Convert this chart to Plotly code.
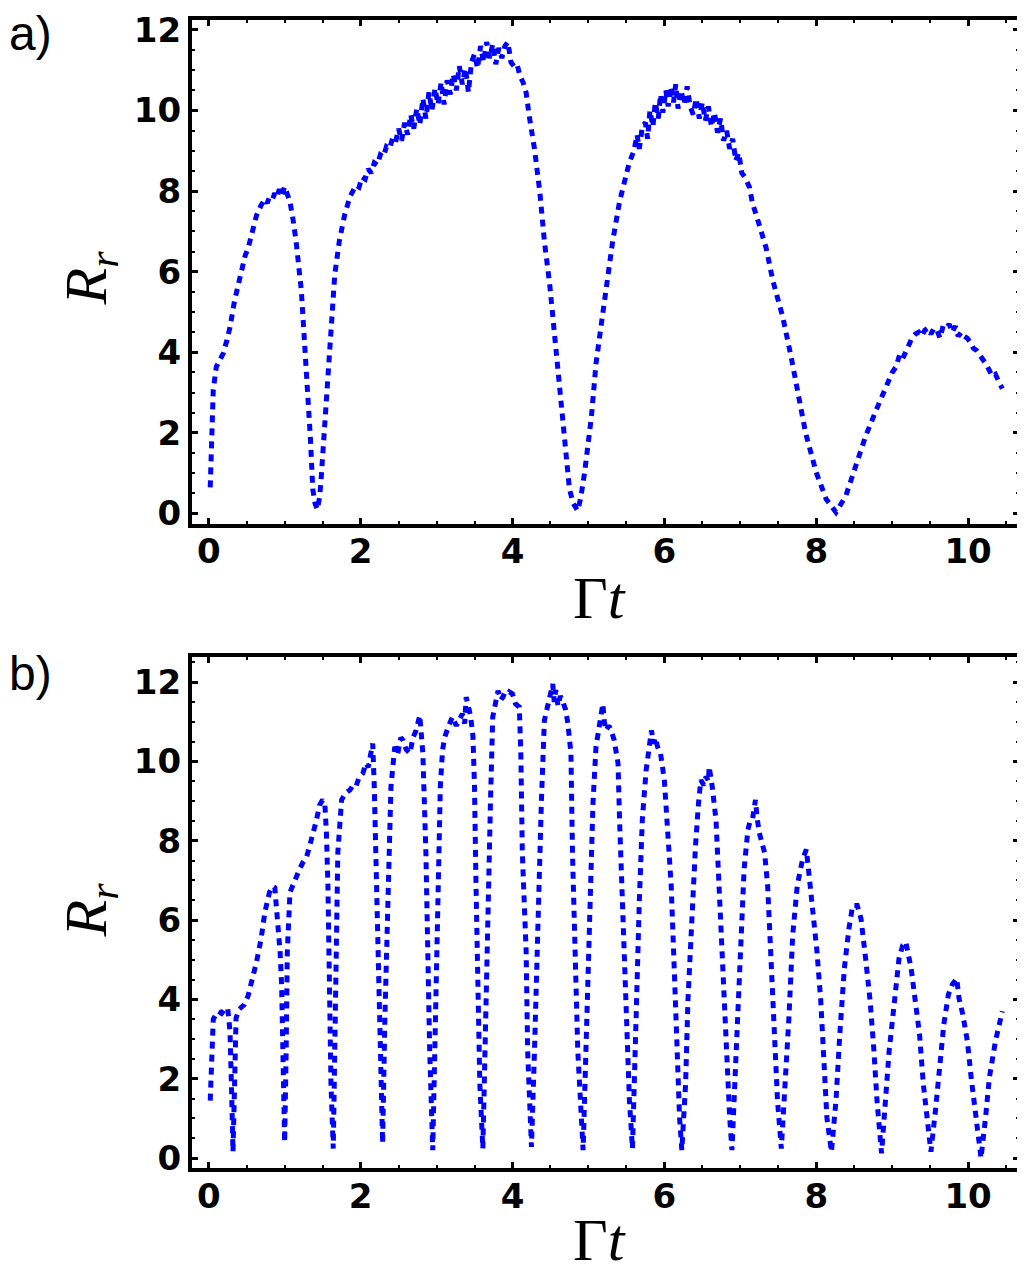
import plotly.graph_objects as go

# panel a) : R_r versus Gamma t
t_a = [0.02, 0.04, 0.06, 0.10, 0.15, 0.19, 0.24, 0.28, 0.34, 0.39, 0.43, 0.48, 0.52, 0.58, 0.63,
       0.69, 0.74, 0.77, 0.80, 0.84, 0.87, 0.90, 0.93, 0.96, 1.00, 1.03, 1.07, 1.11, 1.15, 1.22,
       1.26, 1.31, 1.34, 1.37, 1.40, 1.43, 1.46, 1.48, 1.53, 1.57, 1.61, 1.66, 1.72, 1.79, 1.86,
       1.90, 1.94, 1.98, 2.02, 2.06, 2.10, 2.14, 2.18, 2.22, 2.26, 2.30, 2.34, 2.38, 2.42, 2.46,
       2.50, 2.54, 2.58, 2.62, 2.66, 2.70, 2.74, 2.78, 2.82, 2.86, 2.90, 2.94, 2.98, 3.02, 3.06,
       3.10, 3.14, 3.18, 3.22, 3.26, 3.30, 3.34, 3.38, 3.42, 3.46, 3.50, 3.54, 3.58, 3.62, 3.66,
       3.70, 3.74, 3.78, 3.82, 3.86, 3.90, 3.94, 3.98, 4.02, 4.06, 4.10, 4.14, 4.18, 4.22, 4.29,
       4.36, 4.42, 4.49, 4.55, 4.62, 4.68, 4.75, 4.80, 4.86, 4.90, 4.95, 5.04, 5.10, 5.17, 5.23,
       5.32, 5.41, 5.48, 5.54, 5.60, 5.64, 5.67, 5.71, 5.75, 5.78, 5.81, 5.85, 5.88, 5.92, 5.95,
       5.98, 6.02, 6.05, 6.09, 6.12, 6.15, 6.18, 6.22, 6.26, 6.30, 6.34, 6.38, 6.42, 6.46, 6.50,
       6.54, 6.58, 6.62, 6.66, 6.70, 6.74, 6.78, 6.82, 6.86, 6.90, 6.94, 6.98, 7.02, 7.06, 7.12,
       7.16, 7.21, 7.26, 7.34, 7.43, 7.50, 7.56, 7.67, 7.75, 7.86, 8.00, 8.13, 8.26, 8.39, 8.52,
       8.65, 8.79, 8.92, 9.00, 9.05, 9.10, 9.14, 9.18, 9.22, 9.26, 9.31, 9.35, 9.39, 9.43, 9.47,
       9.51, 9.55, 9.59, 9.63, 9.67, 9.71, 9.75, 9.79, 9.83, 9.87, 9.91, 9.95, 9.99, 10.03, 10.07,
       10.11, 10.15, 10.19, 10.24, 10.28, 10.32, 10.36, 10.40, 10.45]
r_a = [0.65, 2.0, 3.07, 3.64, 3.8, 3.97, 4.3, 4.62, 5.28, 5.7, 6.02, 6.4, 6.59, 7.08, 7.4,
       7.65, 7.8, 7.7, 7.85, 7.8, 7.95, 7.85, 8.05, 7.9, 8.11, 7.95, 7.74, 7.3, 6.76, 5.53,
       4.30, 3.07, 1.84, 0.61, 0.25, 0.1, 0.4, 0.85, 2.25, 3.47, 4.70, 5.93, 6.76, 7.41, 7.86,
       8.0, 8.15, 8.1, 8.35, 8.3, 8.55, 8.45, 8.7, 8.65, 8.9, 8.85, 9.1, 9.05, 9.3, 9.2,
       9.55, 9.25, 9.7, 9.4, 9.9, 9.55, 10.05, 9.65, 10.3, 9.8, 10.45, 10.0, 10.55, 10.15, 10.7,
       10.15, 10.75, 10.4, 10.9, 10.5, 11.1, 10.65, 11.05, 10.45, 11.2, 11.4, 11.05, 11.6, 11.2, 11.7,
       11.3, 11.65, 11.15, 11.55, 11.3, 11.6, 11.7, 11.2, 11.1, 11.15, 10.85, 10.7, 10.44, 9.87, 9.05,
       7.98, 6.76, 5.69, 4.46, 3.07, 1.84, 0.61, 0.25, 0.07, 0.4, 1.02, 2.41, 3.72, 4.70, 5.6,
       6.76, 7.74, 8.3, 8.72, 9.0, 9.4, 9.05, 9.6, 9.7, 9.3, 10.0, 9.6, 10.2, 9.8, 10.4,
       9.95, 10.5, 10.1, 10.6, 10.2, 10.65, 10.05, 10.5, 10.15, 10.6, 10.1, 9.9, 10.3, 9.8, 10.2,
       9.75, 10.1, 9.6, 9.95, 9.45, 9.8, 9.25, 9.5, 9.05, 9.3, 8.75, 8.95, 8.45, 8.35, 8.1,
       7.7, 7.41, 7.05, 6.59, 5.77, 5.3, 4.87, 3.88, 3.07, 2.00, 1.02, 0.36, 0.03, 0.44, 1.18,
       1.92, 2.57, 3.15, 3.5, 3.64, 3.95, 3.85, 4.0, 4.2, 4.35, 4.46, 4.5, 4.4, 4.55, 4.6,
       4.45, 4.6, 4.55, 4.35, 4.65, 4.6, 4.7, 4.5, 4.65, 4.4, 4.5, 4.4, 4.35, 4.25, 4.1,
       4.05, 3.95, 3.85, 3.7, 3.55, 3.4, 3.45, 3.3, 3.1]

# panel b)
t_b = [0.02, 0.04, 0.06, 0.09, 0.13, 0.17, 0.21, 0.25, 0.28, 0.30, 0.32, 0.34, 0.36, 0.40, 0.44,
       0.47, 0.52, 0.56, 0.63, 0.69, 0.74, 0.80, 0.84, 0.87, 0.91, 0.94, 0.96, 0.98, 1.00, 1.02,
       1.035, 1.07, 1.11, 1.15, 1.20, 1.24, 1.29, 1.33, 1.38, 1.42, 1.46, 1.50, 1.53, 1.55, 1.57,
       1.59, 1.61, 1.64, 1.66, 1.68, 1.70, 1.75, 1.80, 1.86, 1.90, 1.94, 1.98, 2.03, 2.07, 2.10,
       2.12, 2.16, 2.18, 2.21, 2.23, 2.27, 2.29, 2.32, 2.36, 2.40, 2.45, 2.49, 2.53, 2.56, 2.60,
       2.65, 2.69, 2.73, 2.78, 2.82, 2.86, 2.88, 2.91, 2.95, 2.98, 3.02, 3.05, 3.08, 3.11, 3.16,
       3.21, 3.26, 3.30, 3.34, 3.37, 3.39, 3.43, 3.45, 3.48, 3.50, 3.52, 3.54, 3.57, 3.61, 3.64,
       3.68, 3.71, 3.74, 3.78, 3.81, 3.85, 3.88, 3.92, 3.96, 4.00, 4.04, 4.09, 4.11, 4.13, 4.18,
       4.20, 4.25, 4.29, 4.33, 4.38, 4.42, 4.46, 4.49, 4.53, 4.55, 4.57, 4.60, 4.63, 4.66, 4.70,
       4.73, 4.77, 4.79, 4.83, 4.86, 4.93, 4.97, 5.01, 5.06, 5.10, 5.15, 5.19, 5.21, 5.23, 5.27,
       5.30, 5.34, 5.39, 5.41, 5.44, 5.47, 5.50, 5.54, 5.58, 5.61, 5.64, 5.67, 5.71, 5.76, 5.80,
       5.83, 5.86, 5.88, 5.91, 5.95, 6.00, 6.04, 6.09, 6.13, 6.16, 6.20, 6.23, 6.28, 6.31, 6.36,
       6.41, 6.45, 6.48, 6.52, 6.55, 6.58, 6.59, 6.63, 6.68, 6.72, 6.77, 6.81, 6.86, 6.89, 6.93,
       6.96, 7.01, 7.05, 7.10, 7.13, 7.16, 7.20, 7.22, 7.25, 7.32, 7.36, 7.40, 7.45, 7.49, 7.54,
       7.58, 7.64, 7.69, 7.75, 7.82, 7.87, 7.92, 7.97, 8.01, 8.06, 8.11, 8.14, 8.20, 8.26, 8.31,
       8.37, 8.43, 8.48, 8.54, 8.59, 8.65, 8.71, 8.76, 8.80, 8.86, 8.91, 8.96, 9.03, 9.09, 9.14,
       9.18, 9.25, 9.30, 9.36, 9.41, 9.46, 9.51, 9.57, 9.62, 9.68, 9.74, 9.79, 9.85, 9.88, 9.93,
       9.99, 10.04, 10.10, 10.17, 10.23, 10.28, 10.36, 10.45]
r_b = [1.45, 2.8, 3.5, 3.6, 3.7, 3.65, 3.75, 3.78, 3.2, 1.8, 0.16, 1.8, 3.53, 3.75, 3.8,
       3.87, 4.1, 4.37, 4.95, 5.53, 6.2, 6.7, 6.85, 6.82, 6.03, 5.2, 4.37, 2.7, 0.4, 2.7,
       5.2, 6.7, 6.9, 7.12, 7.3, 7.45, 7.6, 7.87, 8.2, 8.53, 8.9, 9.03, 8.9, 8.2, 6.87,
       4.37, 1.87, 0.24, 2.7, 5.2, 7.7, 9.03, 9.2, 9.28, 9.4, 9.37, 9.6, 9.7, 9.95, 9.85,
       10.03, 10.45, 9.37, 6.87, 4.37, 1.87, 0.37, 3.53, 6.87, 9.37, 10.37, 10.2, 10.6, 10.53, 10.3,
       10.2, 10.6, 10.78, 11.16, 10.2, 7.7, 5.2, 2.7, 0.2, 2.7, 6.03, 9.37, 10.3, 10.62, 10.9,
       11.12, 10.9, 11.05, 11.2, 10.95, 11.62, 11.3, 11.12, 10.62, 9.37, 6.87, 4.37, 1.87, 0.24, 3.12,
       6.03, 8.95, 11.12, 11.5, 11.78, 11.55, 11.65, 11.62, 11.75, 11.7, 11.45, 11.37, 10.2, 7.7, 5.2,
       2.7, 0.28, 2.7, 6.03, 8.95, 11.03, 11.4, 11.62, 11.95, 11.5, 11.8, 11.4, 11.65, 11.53, 11.3,
       10.95, 10.2, 7.7, 5.2, 2.7, 0.2, 2.7, 6.03, 8.95, 10.37, 11.0, 11.45, 11.0, 10.78, 10.9,
       10.78, 10.53, 9.95, 8.53, 6.87, 5.2, 3.12, 1.45, 0.24, 1.87, 4.37, 6.45, 8.53, 9.78, 10.5,
       10.78, 10.45, 10.6, 10.37, 10.2, 9.53, 8.53, 6.87, 4.78, 2.7, 1.03, 0.2, 1.87, 3.95, 6.03,
       7.87, 8.95, 9.53, 9.4, 9.62, 9.5, 9.87, 9.37, 8.53, 6.87, 4.78, 2.7, 1.03, 0.2, 1.87,
       3.53, 5.62, 7.28, 8.28, 8.5, 8.53, 9.03, 8.6, 8.2, 7.7, 6.87, 5.2, 3.12, 1.45, 0.24,
       1.45, 3.53, 5.62, 6.87, 7.53, 7.78, 6.87, 6.03, 5.2, 3.95, 2.28, 1.03, 0.16, 1.45, 3.12,
       4.78, 5.78, 6.37, 6.37, 6.03, 5.03, 3.95, 2.7, 1.45, 0.12, 1.45, 2.7, 3.95, 5.03, 5.37,
       5.45, 4.78, 4.12, 3.12, 1.87, 0.87, 0.16, 1.2, 2.28, 3.37, 4.12, 4.37, 4.53, 4.03, 3.62,
       2.95, 2.03, 1.03, 0.0, 1.03, 2.03, 2.95, 3.7]

x_ticks = [0, 2, 4, 6, 8, 10]
y_ticks = [0, 2, 4, 6, 8, 10, 12]

blue = "#0000ff"
line = dict(color=blue, width=5, dash="7px,6px")

fig = go.Figure()
fig.add_trace(go.Scatter(x=t_a, y=r_a, mode="lines", line=line, xaxis="x", yaxis="y"))
fig.add_trace(go.Scatter(x=t_b, y=r_b, mode="lines", line=line, xaxis="x2", yaxis="y2"))

tickfont = dict(family="DejaVu Sans", size=34, color="black", weight="bold")
ax = dict(showline=True, linewidth=4, linecolor="black", mirror="ticks",
          ticks="inside", ticklen=6, tickwidth=3, tickcolor="black",
          showgrid=False, zeroline=False, tickfont=tickfont, ticklabeloverflow="allow",
          minor=dict(ticks="inside", ticklen=3, tickwidth=2, tickcolor="black", dtick=0.5, showgrid=False))

# the page puts the figure 8px in from the top-left corner
fig.update_layout(
    width=1017, height=1266,
    margin=dict(l=184, r=5, t=2, b=106),
    paper_bgcolor="white", plot_bgcolor="white",
    showlegend=False,
    xaxis=dict(ax, range=[-0.22, 10.67], tickvals=x_ticks, domain=[0, 1], anchor="y",
               ticklabelstandoff=-5),
    yaxis=dict(ax, range=[-0.25, 12.246], tickvals=y_ticks, domain=[0.5613, 1], anchor="x"),
    xaxis2=dict(ax, range=[-0.22, 10.67], tickvals=x_ticks, domain=[0, 1], anchor="y2",
                ticklabelstandoff=-5),
    yaxis2=dict(ax, range=[-0.25, 12.62], tickvals=y_ticks, domain=[0, 0.4447], anchor="x2"),
)

serif = dict(family="Liberation Serif", size=60, color="black")
label = dict(family="Liberation Sans", size=48, color="black")
notes = [
    dict(text="Γ<i>t</i>", x=0.4928, y=0.4965, font=serif),
    dict(text="Γ<i>t</i>", x=0.4928, y=-0.0631, font=serif),
    dict(text="<i>R</i><sub><i>r</i></sub>", x=-0.1232, y=0.775, font=serif, textangle=-90),
    dict(text="<i>R</i><sub><i>r</i></sub>", x=-0.1232, y=0.2245, font=serif, textangle=-90),
    dict(text="a)", x=-0.1957, y=0.988, font=label),
    dict(text="b)", x=-0.1957, y=0.4309, font=label),
]
for n in notes:
    fig.add_annotation(xref="paper", yref="paper", showarrow=False,
                       xanchor="center", yanchor="middle", **n)

fig.write_html("out.html")
